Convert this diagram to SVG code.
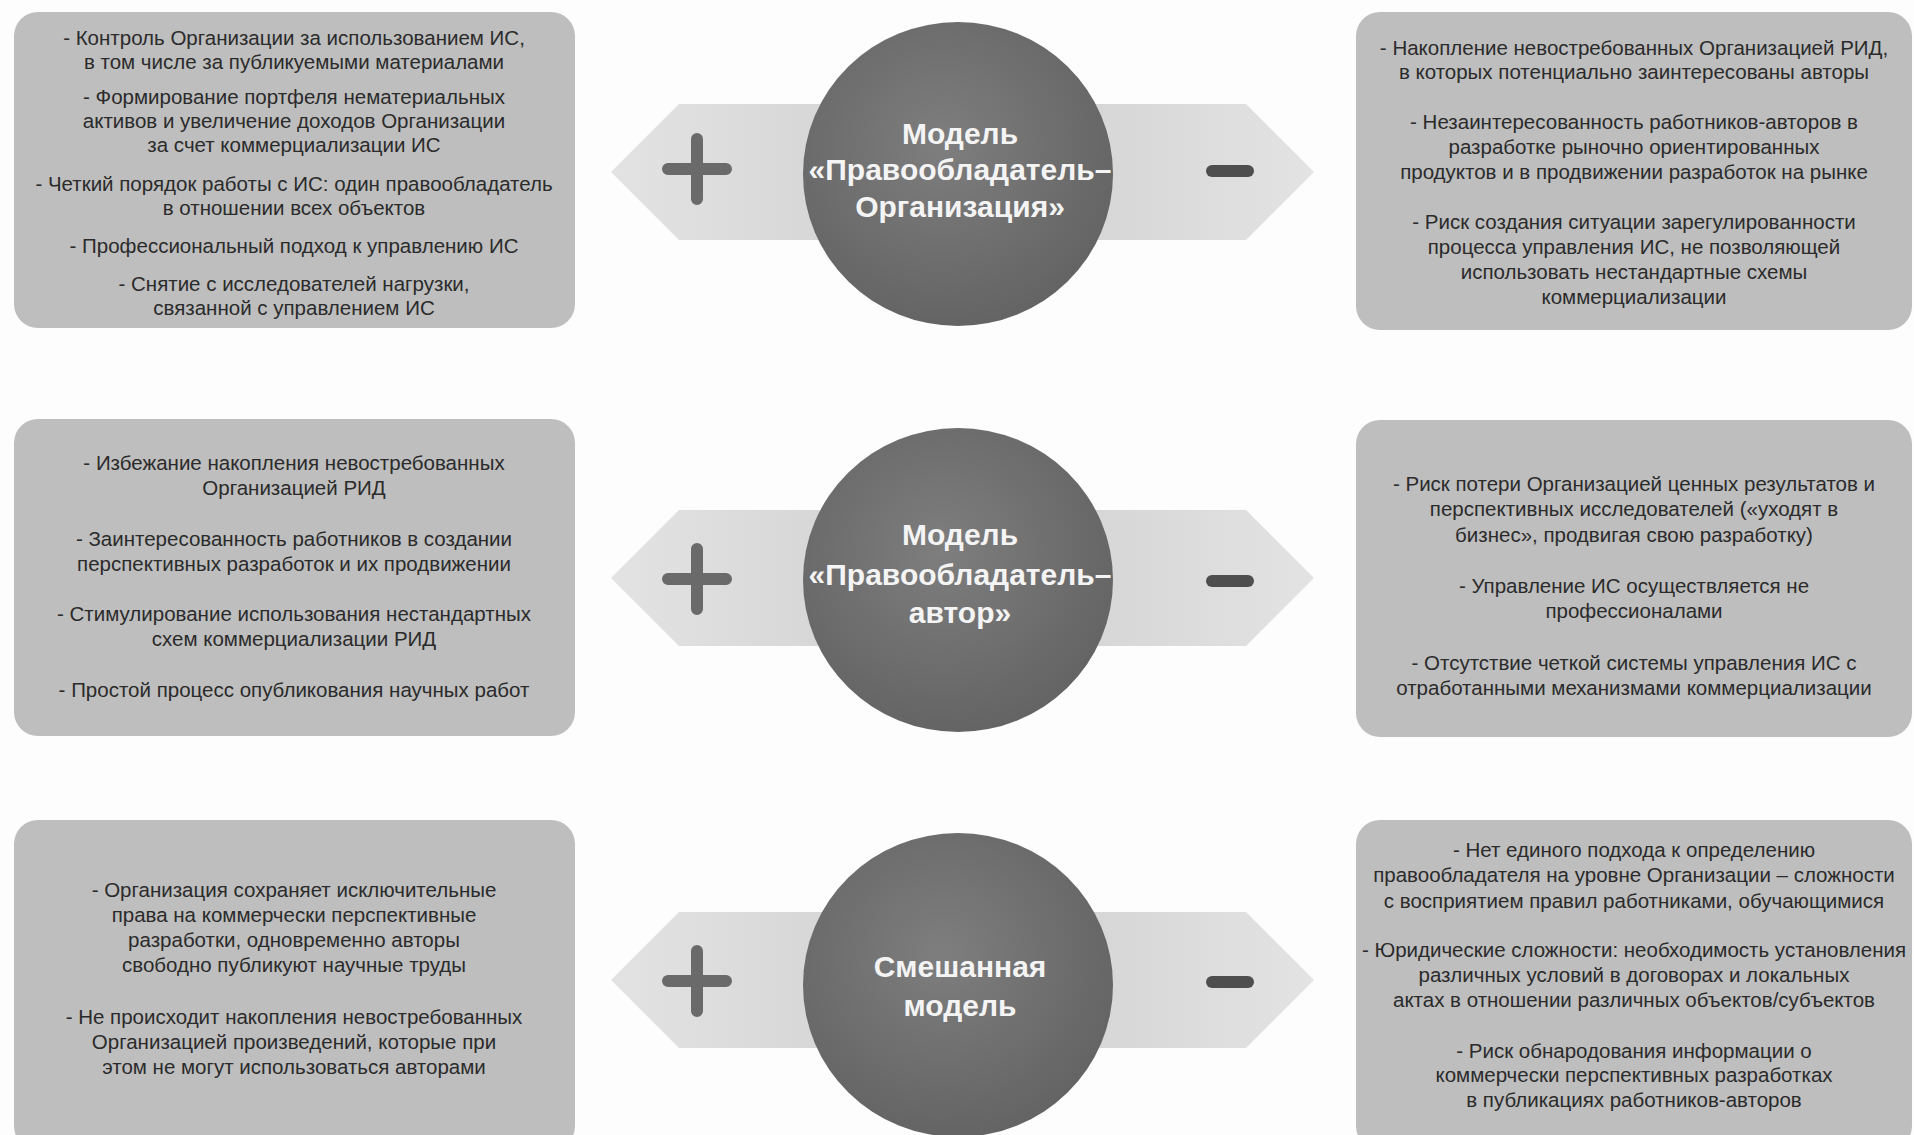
<svg xmlns="http://www.w3.org/2000/svg" width="1914" height="1135" viewBox="0 0 1914 1135">
  <defs>
    <linearGradient id="bandGrad" x1="0" y1="0" x2="1" y2="0">
      <stop offset="0" stop-color="#e3e3e3"/>
      <stop offset="0.5" stop-color="#cfcfcf"/>
      <stop offset="1" stop-color="#e3e3e3"/>
    </linearGradient>
    <radialGradient id="circGrad" cx="0.45" cy="0.4" r="0.65">
      <stop offset="0" stop-color="#7e7e7e"/>
      <stop offset="1" stop-color="#626262"/>
    </radialGradient>
    <style>
      .box { fill: #bebebe; }
      .txt { font-family: "Liberation Sans", Arial, sans-serif; font-size: 20.5px; fill: #2b2b2b; text-anchor: middle; }
      .title { font-family: "Liberation Sans", Arial, sans-serif; font-size: 30px; font-weight: bold; fill: #f4f4f4; text-anchor: middle; }
      .band { fill: url(#bandGrad); }
      .circ { fill: url(#circGrad); }
      .plus { stroke: #6a6a6a; stroke-width: 12; stroke-linecap: round; fill: none; }
      .minus { stroke: #4e4e4e; stroke-width: 12; stroke-linecap: round; fill: none; }
    </style>
  </defs>
  <rect width="1914" height="1135" fill="#fdfdfd"/>

  <g id="connectors">
    <polygon class="band" points="611,172 679,104 1246,104 1314,172 1246,240 679,240"/>
    <polygon class="band" points="611,578 679,510 1246,510 1314,578 1246,646 679,646"/>
    <polygon class="band" points="611,980 679,912 1246,912 1314,980 1246,1048 679,1048"/>
  </g>

  <g id="row1-pros">
    <rect class="box" x="14" y="12" width="561" height="316" rx="24"/>
    <text class="txt" x="294" y="45">- Контроль Организации за использованием ИС,</text>
    <text class="txt" x="294" y="69">в том числе за публикуемыми материалами</text>
    <text class="txt" x="294" y="104">- Формирование портфеля нематериальных</text>
    <text class="txt" x="294" y="128">активов и увеличение доходов Организации</text>
    <text class="txt" x="294" y="152">за счет коммерциализации ИС</text>
    <text class="txt" x="294" y="191">- Четкий порядок работы с ИС: один правообладатель</text>
    <text class="txt" x="294" y="215">в отношении всех объектов</text>
    <text class="txt" x="294" y="253">- Профессиональный подход к управлению ИС</text>
    <text class="txt" x="294" y="291">- Снятие с исследователей нагрузки,</text>
    <text class="txt" x="294" y="315">связанной с управлением ИС</text>
  </g>

  <g id="row1-model">
    <ellipse class="circ" cx="958" cy="174" rx="155" ry="152"/>
    <text class="title" x="960" y="144">Модель</text>
    <text class="title" x="960" y="180">«Правообладатель–</text>
    <text class="title" x="960" y="217">Организация»</text>
    <path class="plus" d="M668,169 H726 M697,139 V199"/>
    <path class="minus" d="M1212,171 H1248"/>
  </g>

  <g id="row1-cons">
    <rect class="box" x="1356" y="12" width="556" height="318" rx="24"/>
    <text class="txt" x="1634" y="55">- Накопление невостребованных Организацией РИД,</text>
    <text class="txt" x="1634" y="79">в которых потенциально заинтересованы авторы</text>
    <text class="txt" x="1634" y="129">- Незаинтересованность работников-авторов в</text>
    <text class="txt" x="1634" y="154">разработке рыночно ориентированных</text>
    <text class="txt" x="1634" y="179">продуктов и в продвижении разработок на рынке</text>
    <text class="txt" x="1634" y="229">- Риск создания ситуации зарегулированности</text>
    <text class="txt" x="1634" y="254">процесса управления ИС, не позволяющей</text>
    <text class="txt" x="1634" y="279">использовать нестандартные схемы</text>
    <text class="txt" x="1634" y="304">коммерциализации</text>
  </g>

  <g id="row2-pros">
    <rect class="box" x="14" y="419" width="561" height="317" rx="24"/>
    <text class="txt" x="294" y="470">- Избежание накопления невостребованных</text>
    <text class="txt" x="294" y="495">Организацией РИД</text>
    <text class="txt" x="294" y="546">- Заинтересованность работников в создании</text>
    <text class="txt" x="294" y="571">перспективных разработок и их продвижении</text>
    <text class="txt" x="294" y="621">- Стимулирование использования нестандартных</text>
    <text class="txt" x="294" y="646">схем коммерциализации РИД</text>
    <text class="txt" x="294" y="697">- Простой процесс опубликования научных работ</text>
  </g>

  <g id="row2-model">
    <ellipse class="circ" cx="958" cy="580" rx="155" ry="152"/>
    <text class="title" x="960" y="545">Модель</text>
    <text class="title" x="960" y="585">«Правообладатель–</text>
    <text class="title" x="960" y="623">автор»</text>
    <path class="plus" d="M668,579 H726 M697,549 V609"/>
    <path class="minus" d="M1212,581 H1248"/>
  </g>

  <g id="row2-cons">
    <rect class="box" x="1356" y="420" width="556" height="317" rx="24"/>
    <text class="txt" x="1634" y="491">- Риск потери Организацией ценных результатов и</text>
    <text class="txt" x="1634" y="516">перспективных исследователей («уходят в</text>
    <text class="txt" x="1634" y="542">бизнес», продвигая свою разработку)</text>
    <text class="txt" x="1634" y="593">- Управление ИС осуществляется не</text>
    <text class="txt" x="1634" y="618">профессионалами</text>
    <text class="txt" x="1634" y="670">- Отсутствие четкой системы управления ИС с</text>
    <text class="txt" x="1634" y="695">отработанными механизмами коммерциализации</text>
  </g>

  <g id="row3-pros">
    <rect class="box" x="14" y="820" width="561" height="330" rx="24"/>
    <text class="txt" x="294" y="897">- Организация сохраняет исключительные</text>
    <text class="txt" x="294" y="922">права на коммерчески перспективные</text>
    <text class="txt" x="294" y="947">разработки, одновременно авторы</text>
    <text class="txt" x="294" y="972">свободно публикуют научные труды</text>
    <text class="txt" x="294" y="1024">- Не происходит накопления невостребованных</text>
    <text class="txt" x="294" y="1049">Организацией произведений, которые при</text>
    <text class="txt" x="294" y="1074">этом не могут использоваться авторами</text>
  </g>

  <g id="row3-model">
    <ellipse class="circ" cx="958" cy="985" rx="155" ry="152"/>
    <text class="title" x="960" y="977">Смешанная</text>
    <text class="title" x="960" y="1016">модель</text>
    <path class="plus" d="M668,981 H726 M697,951 V1011"/>
    <path class="minus" d="M1212,982 H1248"/>
  </g>

  <g id="row3-cons">
    <rect class="box" x="1356" y="820" width="556" height="330" rx="24"/>
    <text class="txt" x="1634" y="857">- Нет единого подхода к определению</text>
    <text class="txt" x="1634" y="882">правообладателя на уровне Организации – сложности</text>
    <text class="txt" x="1634" y="908">с восприятием правил работниками, обучающимися</text>
    <text class="txt" x="1634" y="957">- Юридические сложности: необходимость установления</text>
    <text class="txt" x="1634" y="982">различных условий в договорах и локальных</text>
    <text class="txt" x="1634" y="1007">актах в отношении различных объектов/субъектов</text>
    <text class="txt" x="1634" y="1058">- Риск обнародования информации о</text>
    <text class="txt" x="1634" y="1082">коммерчески перспективных разработках</text>
    <text class="txt" x="1634" y="1107">в публикациях работников-авторов</text>
  </g>
</svg>
